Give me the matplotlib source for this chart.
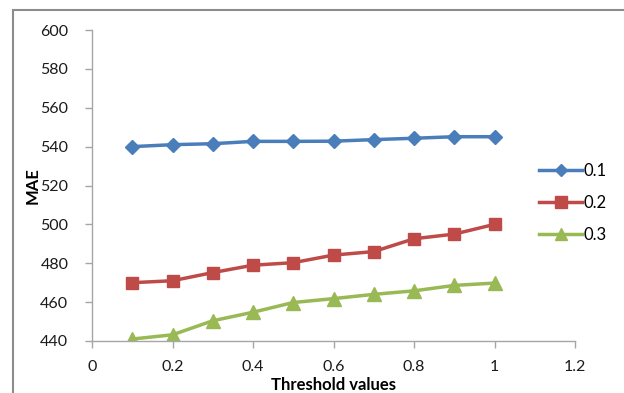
import matplotlib.pyplot as plt
from matplotlib.patches import Rectangle

thresholds = [0.1, 0.2, 0.3, 0.4, 0.5, 0.6, 0.7, 0.8, 0.9, 1.0]
mae_01 = [540, 541, 541.5, 542.7, 542.7, 542.8, 543.6, 544.3, 545.1, 545.1]
mae_02 = [470, 471, 475.2, 479, 480.3, 484.2, 486, 492.6, 495, 500]
mae_03 = [441, 443.2, 450.4, 454.8, 459.8, 461.8, 464, 465.8, 468.6, 469.8]
series_labels = ['0.1', '0.2', '0.3']

plt.rcParams['font.family'] = ['Lato', 'DejaVu Sans']

fig = plt.figure(figsize=(6.24, 3.93), dpi=100)
# outer chart frame
fig.patches.append(Rectangle((13 / 624, -0.1), 1.2, 1 - 10 / 393 + 0.1,
                             transform=fig.transFigure, fill=False,
                             edgecolor='#8c8c8c', linewidth=1.5))

ax = fig.add_axes([92 / 624, 52 / 393, (575 - 92) / 624, (341 - 30) / 393])

ax.plot(thresholds, mae_01, '-D', color='#4A7EBB', markersize=7,
        linewidth=2.5, label=series_labels[0])
ax.plot(thresholds, mae_02, '-s', color='#BE4B48', markersize=9,
        linewidth=2.5, label=series_labels[1])
ax.plot(thresholds, mae_03, '-^', color='#98B954', markersize=10,
        linewidth=2.5, label=series_labels[2])

ax.set_xlim(0, 1.2)
ax.set_ylim(440, 600)
ax.set_xticks([0, 0.2, 0.4, 0.6, 0.8, 1, 1.2])
ax.set_xticklabels(['0', '0.2', '0.4', '0.6', '0.8', '1', '1.2'])
ax.set_yticks(range(440, 601, 20))

for side in ['top', 'right']:
    ax.spines[side].set_visible(False)
for side in ['left', 'bottom']:
    ax.spines[side].set_color('#a6a6a6')
    ax.spines[side].set_linewidth(1)
ax.tick_params(colors='#a6a6a6', labelcolor='#1a1a1a', labelsize=11.5,
               length=5, width=1)
ax.tick_params(axis='y', pad=12)
ax.tick_params(axis='x', pad=9)

ax.set_xlabel('Threshold values', fontsize=12, fontweight='bold', labelpad=2)
ax.set_ylabel('MAE', fontsize=12, fontweight='bold', labelpad=0)

ax.legend(loc='center left', bbox_to_anchor=(524 / 624, 1 - 203 / 393),
          bbox_transform=fig.transFigure, frameon=False, fontsize=12,
          handlelength=2.6, handletextpad=0.05, labelspacing=0.95,
          markerscale=0.9)

fig.savefig('out.png', dpi=100)
